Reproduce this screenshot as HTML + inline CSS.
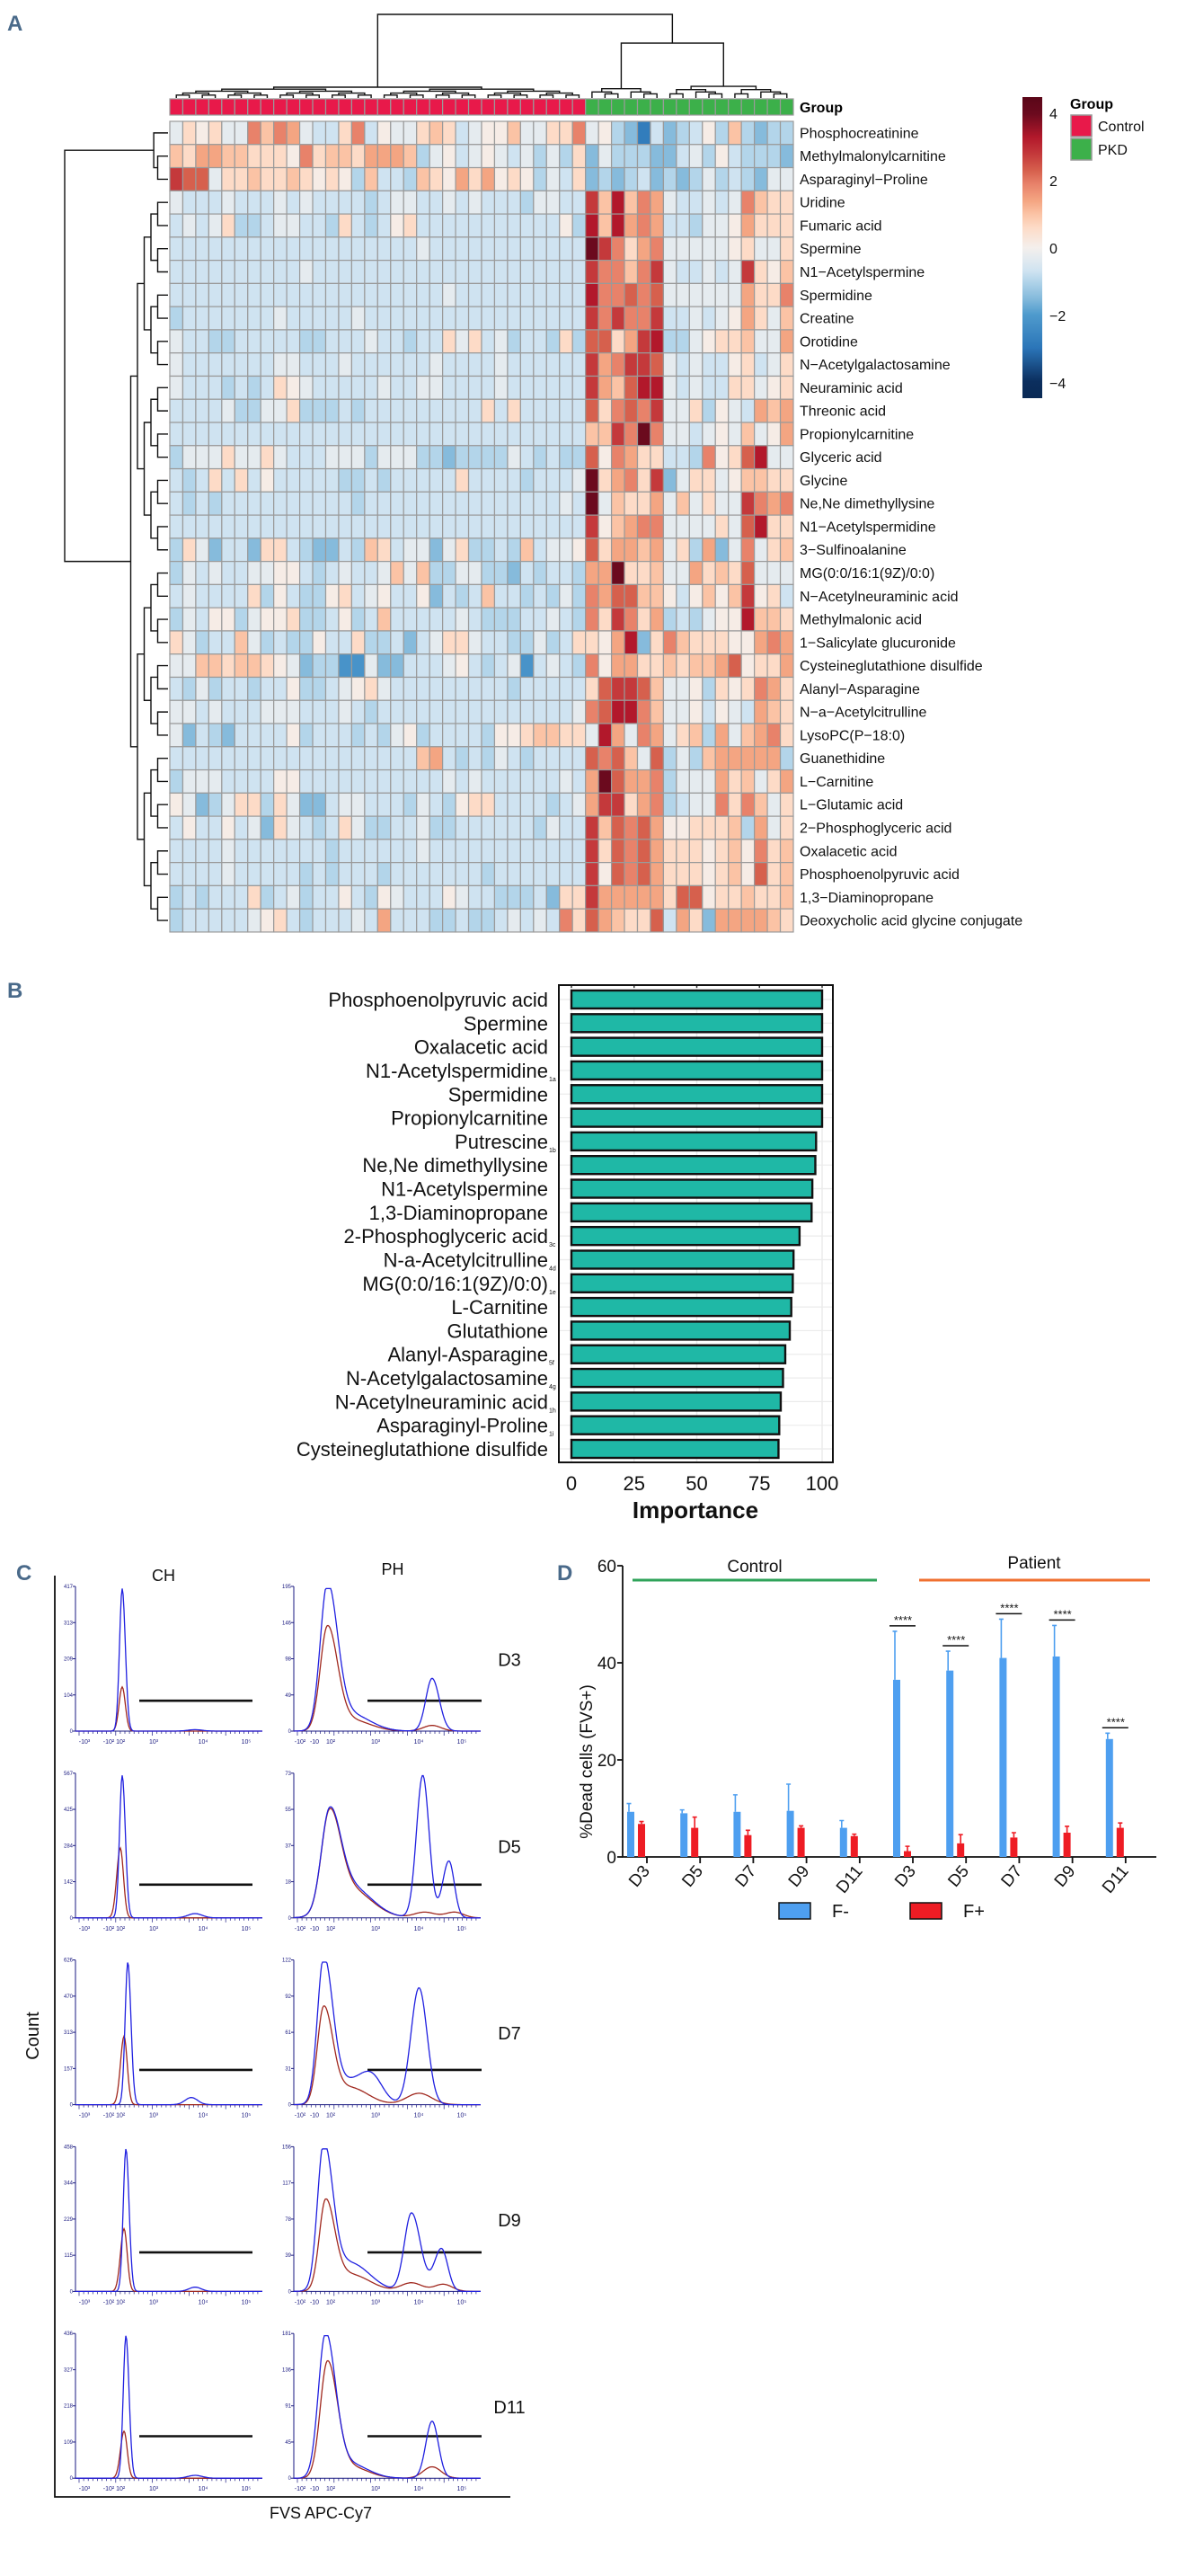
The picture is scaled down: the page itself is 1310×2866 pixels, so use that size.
<!DOCTYPE html>
<html><head><meta charset="utf-8"><title>Metabolomics figure</title>
<style>
html,body{margin:0;padding:0;background:#fff;}
svg{display:block;font-family:"Liberation Sans",Arial,sans-serif;}
.pl{font-family:"Liberation Sans",sans-serif;font-weight:bold;fill:#4a6a8a;font-size:24px;}
</style></head>
<body>
<svg id="fig" width="1310" height="2866" viewBox="0 0 1310 2866" xmlns="http://www.w3.org/2000/svg">
<defs>
<linearGradient id="cbar" x1="0" y1="0" x2="0" y2="1"></linearGradient>
</defs>
<text class="pl" x="8" y="34">A</text>
<text class="pl" x="8" y="1110">B</text>
<text class="pl" x="18" y="1758">C</text>
<text class="pl" x="620" y="1758">D</text>
<g id="gA"></g>
<g id="gB"></g>
<g id="gC"></g>
<g id="gD"></g>
</svg>
<script>
// ---------- Panel A data ----------
const metabolites=["Phosphocreatinine","Methylmalonylcarnitine","Asparaginyl\u2212Proline","Uridine","Fumaric acid","Spermine","N1\u2212Acetylspermine","Spermidine","Creatine","Orotidine","N\u2212Acetylgalactosamine","Neuraminic acid","Threonic acid","Propionylcarnitine","Glyceric acid","Glycine","Ne,Ne dimethyllysine","N1\u2212Acetylspermidine","3\u2212Sulfinoalanine","MG(0:0/16:1(9Z)/0:0)","N\u2212Acetylneuraminic acid","Methylmalonic acid","1\u2212Salicylate glucuronide","Cysteineglutathione disulfide","Alanyl\u2212Asparagine","N\u2212a\u2212Acetylcitrulline","LysoPC(P\u221218:0)","Guanethidine","L\u2212Carnitine","L\u2212Glutamic acid","2\u2212Phosphoglyceric acid","Oxalacetic acid","Phosphoenolpyruvic acid","1,3\u2212Diaminopropane","Deoxycholic acid glycine conjugate"];
const controlRows=["687866b9ba6558b5766898567796688b","98aa998887b8998aaa94675676564648","dcc6889889878749554987a8a7874658","65556555656555545665565655546655","56568445665548545785555555555574","55555555555555555556555555555555","55555555556555555555555555555555","55555555555555555555565555555555","45555555655555655555555555555555","65544555554455565545586856455484","65555555665556555555655556555555","65554545876555556556655556555555","55556446684445455555555585855555","55555555555555555555555555555555","46668668655566646664434444654544","54585857555554454555558555545556","54545555555555455555555555555565","55555555555555555555555555555555","48635538854335498566368445495667","46565566775456556969446644354554","56555584754478567557354595545464","46577467784457459555556544455654","86455964544755844535688655446458","66998998763442263355567545625654","54645545574456786555555555455555","66565556665556545555555555555556","63543555574555454674555547789988","55555555555555555559a54546545555","46665555775555555555565655555565","76346884863356655546547885555456","57557563865458644556445555554655","55556555555545555556555555555555","55556555554545554555555545555555","45455584564557547655576554445388","4555556785455565a5554454456565b8"];
const pkdRows=["6743153457494344","3644433564754443","3434534346454366","d9e9ba655656b988","e9eaba554667a888","fdb8ab6666678668","dbb9bd655656d879","ebbcbc666666a88b","dbdbbd556567a869","cc8ade446788966a","dabddc6565578568","da9cee6565588678","c8bcbd6684765a9a","99dbfb665676967a","c7ba88554b78ce66","f8ab8d3688679988","f6988a696866dbab","d79abb666686ce88","c8aa9a684a36b689","aaf88966a898c666","bacc99757979d785","b8db8a454677e998","87ae38b988877aba","b7aa889899ac788a","8cddc96674878ba8","bceeb96675765a98","6ea6ba6894a69ab8","cbc96c4649aaaaa4","afcaab4666a8968a","add8ab4566b8b968","d9cbca7788894a68","d8cbca8887897b89","d7cbca8887897c89","daaaaa8cc7889889","ca988c5a83aaaa98"];
const codeKeys="123456789abcdef";
const codeValues=[-2.8,-2.2,-1.5,-1.0,-0.7,-0.3,0.1,0.6,1.0,1.4,1.9,2.3,2.8,3.3,4.0];
const nControl=32, nPKD=16;
const colorStopVals=[-4.5,-4,-3,-2,-1.5,-1,-0.7,-0.3,0,0.6,1,1.4,1.9,2.3,2.8,3.3,4,4.5];
const colorStopCols=["#0a2a55","#0b2e5e","#2b75b8","#4f9bcd","#86bbdc","#b3d5ea","#cfe3f1","#e5ebef","#f4efec","#fddbc7","#fbc3a5","#f4a582","#e8826a","#d6604d","#c4393b","#b2182b","#6b0a1e","#5a0618"];
const cbTicks=[4,2,0,-2,-4];

// ---------- Panel B data ----------
const impLabels=["Phosphoenolpyruvic acid","Spermine","Oxalacetic acid","N1-Acetylspermidine","Spermidine","Propionylcarnitine","Putrescine","Ne,Ne dimethyllysine","N1-Acetylspermine","1,3-Diaminopropane","2-Phosphoglyceric acid","N-a-Acetylcitrulline","MG(0:0/16:1(9Z)/0:0)","L-Carnitine","Glutathione","Alanyl-Asparagine","N-Acetylgalactosamine","N-Acetylneuraminic acid","Asparaginyl-Proline","Cysteineglutathione disulfide"];
const impSubs=["","","","1a","","","1b","","","","3c","4d","1e","","","5f","4g","1h","1i",""];
const impValues=[100,100,100,100,100,100,97.6,97.3,96.1,95.8,91.0,88.6,88.3,87.7,87.1,85.3,84.4,83.5,82.9,82.6];
const impTicks=[0,25,50,75,100];

// ---------- Panel C data ----------
const dayLabels=["D3","D5","D7","D9","D11"];
const chMax=[417,567,626,458,436];
const phMax=[195,73,122,156,181];
// peaks: [centerFrac, heightFrac, sigmaLeftPx, sigmaRightPx]
const chBlue=[[[0.25,1,3,3.5],[0.64,0.01,8,8]],[[0.25,1,3,3.5],[0.64,0.03,8,8]],[[0.28,1,3,3.5],[0.62,0.05,7,7]],[[0.27,1,3,3.5],[0.64,0.03,7,7]],[[0.27,1,3,3.5],[0.64,0.02,8,8]]];
const chRed=[[[0.25,0.31,3.5,3.5]],[[0.24,0.49,4,3.5]],[[0.26,0.48,4,3.5]],[[0.26,0.44,4,3.5]],[[0.26,0.33,4,3.5]]];
const phBlue=[[[0.18,1,8,11],[0.3,0.12,18,22],[0.74,0.37,7,8]],[[0.19,0.66,9,12],[0.3,0.22,20,24],[0.69,1.0,7,7],[0.83,0.4,7,6]],[[0.16,1,7,10],[0.3,0.16,18,20],[0.42,0.15,12,12],[0.67,0.82,9,9]],[[0.16,1,7,10],[0.3,0.2,18,22],[0.63,0.55,8,10],[0.79,0.3,8,7]],[[0.17,1,8,11],[0.3,0.1,16,20],[0.74,0.4,7,7]]];
const phRed=[[[0.18,0.71,8,11],[0.3,0.08,18,22],[0.74,0.04,10,10]],[[0.19,0.66,9,12],[0.3,0.2,20,24],[0.7,0.04,12,12],[0.86,0.04,10,10]],[[0.16,0.66,7,10],[0.3,0.12,18,20],[0.67,0.08,14,14]],[[0.17,0.61,7,10],[0.3,0.12,18,22],[0.63,0.06,12,12],[0.8,0.05,10,10]],[[0.18,0.8,8,11],[0.3,0.08,16,20],[0.74,0.08,10,10]]];
const gateFrac=[0.21,0.23,0.24,0.27,0.29];

// ---------- Panel D data ----------
const dCats=["D3","D5","D7","D9","D11","D3","D5","D7","D9","D11"];
const fMinus=[9.3,9.0,9.3,9.5,6.0,36.5,38.4,41.0,41.3,24.3];
const fMinusErr=[1.7,0.7,3.5,5.5,1.5,10.0,4.0,8.0,6.4,1.2];
const fPlus=[6.8,6.0,4.5,6.0,4.3,1.2,2.8,4.0,5.0,6.0];
const fPlusErr=[0.5,2.2,1.0,0.4,0.4,1.0,1.8,1.0,1.3,1.0];
const dTicks=[0,20,40,60];
const sigIdx=[5,6,7,8,9];

const NS="http://www.w3.org/2000/svg";
function mk(tag,attrs,parent){const e=document.createElementNS(NS,tag);for(const k in attrs)e.setAttribute(k,attrs[k]);parent.appendChild(e);return e;}
function txt(parent,x,y,s,size,extra){const t=mk('text',Object.assign({x:x,y:y,'font-size':size},extra||{}),parent);t.textContent=s;return t;}
function hex2rgb(h){return [parseInt(h.substr(1,2),16),parseInt(h.substr(3,2),16),parseInt(h.substr(5,2),16)];}
function colorFor(v){
  if(v<=colorStopVals[0])return colorStopCols[0];
  for(let i=1;i<colorStopVals.length;i++){if(v<=colorStopVals[i]){const t=(v-colorStopVals[i-1])/(colorStopVals[i]-colorStopVals[i-1]);const a=hex2rgb(colorStopCols[i-1]),b=hex2rgb(colorStopCols[i]);return 'rgb('+a.map((c,j)=>Math.round(c+(b[j]-c)*t)).join(',')+')';}}
  return colorStopCols[colorStopCols.length-1];
}
function codeToVal(ch){const i=codeKeys.indexOf(ch);return i<0?-0.7:codeValues[i];}

// ================= Panel A =================
const gA=document.getElementById('gA');
const HX=189,HY=135,CW=694/48,RH=25.77;
const nCols=nControl+nPKD;
function cx(j){return HX+CW*(j+0.5);}
function ry(i){return HY+RH*(i+0.5);}
for(let j=0;j<nCols;j++){
  const r=mk('rect',{x:HX+CW*j,y:110,width:CW,height:18,fill:j<nControl?'#e8194a':'#3cb04a',stroke:'#9a9a9a','stroke-width':1.2},gA);
  
  
}
const gl=txt(gA,890,125,'Group',16,{'font-weight':'bold'});


for(let i=0;i<metabolites.length;i++){
  const crow=(controlRows[i]+"5".repeat(32)).substr(0,nControl);
  const prow=(pkdRows[i]+"6".repeat(16)).substr(0,nPKD);
  const codes=crow+prow;
  for(let j=0;j<nCols;j++){
    const v=codeToVal(codes[j]);
    const r=mk('rect',{x:HX+CW*j,y:HY+RH*i,width:CW,height:RH,fill:colorFor(v),stroke:'#9a9a9a','stroke-width':1.2},gA);
    
    
  }
  const t=txt(gA,890,ry(i)+5.5,metabolites[i],16,{fill:'#111'});
  
  
}
function colTree(lo,hi,yFn){
  if(lo===hi)return {x:cx(lo),y:109};
  const mid=Math.floor((lo+hi+1)/2);
  const a=colTree(lo,mid-1,yFn),b=colTree(mid,hi,yFn);
  const y=yFn(hi-lo+1);
  const p=mk('path',{d:`M${a.x},${a.y}V${y}H${b.x}V${b.y}`,fill:'none',stroke:'#111','stroke-width':1.4},gA);
  
  
  return {x:(a.x+b.x)/2,y:y};
}
const cRoot=colTree(0,31,n=>108-2.2*Math.log2(n));
const pA=colTree(32,37,n=>108-3.6*Math.log2(n));
const pB=colTree(38,47,n=>108-3.6*Math.log2(n));
const pj=mk('path',{d:`M${pA.x},${pA.y}V48H${pB.x}V${pB.y}`,fill:'none',stroke:'#111','stroke-width':1.4},gA);


const pr=mk('path',{d:`M${cRoot.x},${cRoot.y}V16H${(pA.x+pB.x)/2}V48`,fill:'none',stroke:'#111','stroke-width':1.4},gA);


function rowTree(lo,hi){
  if(lo===hi)return {x:187,y:ry(lo)};
  const mid=Math.floor((lo+hi+1)/2);
  const a=rowTree(lo,mid-1),b=rowTree(mid,hi);
  const x=187-(4+7.5*Math.log2(hi-lo+1));
  const p=mk('path',{d:`M${a.x},${a.y}H${x}V${b.y}H${b.x}`,fill:'none',stroke:'#111','stroke-width':1.4},gA);
  
  
  return {x:x,y:(a.y+b.y)/2};
}
const rA=rowTree(0,2),rB=rowTree(3,34);
const rr=mk('path',{d:`M${rA.x},${rA.y}H72V${rB.y}H${rB.x}`,fill:'none',stroke:'#111','stroke-width':1.4},gA);


// colorbar (stops in increasing offset order)
const grad=document.getElementById('cbar');
for(let k=colorStopVals.length-1;k>=0;k--){
  const v=colorStopVals[k];
  mk('stop',{offset:((4.5-v)/9).toFixed(4),'stop-color':colorStopCols[k]},grad);
}
const cb=mk('rect',{x:1138,y:108,width:22,height:335,fill:'url(#cbar)'},gA);


for(const v of cbTicks){
  const y=276-v*37.5;
  const t=txt(gA,1168,y+6,String(v).replace('-','\u2212'),16,{fill:'#111'});
  
  
}
const lgT=txt(gA,1191,121,'Group',16,{'font-weight':'bold'});


[['Control','#e8194a',128],['PKD','#3cb04a',154]].forEach(function(e){
  const b=mk('rect',{x:1192,y:e[2],width:23,height:24,fill:e[1],stroke:'#9a9a9a','stroke-width':1.5},gA);
  
  
  const t=txt(gA,1222,e[2]+18,e[0],16,{fill:'#111'});
  
  
});

// ================= Panel B =================
const gB=document.getElementById('gB');
const BX0=636,BX1=915,BT=1096,BB=1627;
function bx(v){return BX0+(BX1-BX0)*v/100;}
const bbg=mk('rect',{x:622,y:BT,width:305,height:BB-BT,fill:'#fff'},gB);


for(const t of impTicks){
  const g=mk('line',{x1:bx(t),x2:bx(t),y1:BT,y2:BB,stroke:'#ebebeb','stroke-width':1.5},gB);
  
  
  const tk=mk('line',{x1:bx(t),x2:bx(t),y1:BT,y2:BT+3,stroke:'#333','stroke-width':1.5},gB);
  
  
  const tl=txt(gB,bx(t),1658,String(t),22,{'text-anchor':'middle',fill:'#111'});
  
  
}
const step=(1612-1112)/(impLabels.length-1);
for(let i=0;i<impLabels.length;i++){
  const yc=1112+step*i;
  const hg=mk('line',{x1:622,x2:927,y1:yc,y2:yc,stroke:'#ebebeb','stroke-width':1.2},gB);
  
  
  const r=mk('rect',{x:bx(0),y:yc-10,width:bx(impValues[i])-bx(0),height:20,fill:'#1fb8a6',stroke:'#111','stroke-width':2.4},gB);
  
  
  const t=txt(gB,610,yc+8,impLabels[i],22,{'text-anchor':'end',fill:'#111'});
  
  
  if(impSubs[i]){
    const s=txt(gB,611,yc+12,impSubs[i],7,{fill:'#111'});
    
    
  }
}
const bfr=mk('rect',{x:622,y:BT,width:305,height:BB-BT,fill:'none',stroke:'#111','stroke-width':2},gB);


const bxt=txt(gB,774,1689,'Importance',26,{'text-anchor':'middle','font-weight':'bold',fill:'#111'});



// ================= Panel C =================
const gC=document.getElementById('gC');
const PW=208,PH=161,NAVY='#1a1a80';
const t1=txt(gC,182,1759,'CH',18,{'text-anchor':'middle',fill:'#111'});


const t2=txt(gC,437,1752,'PH',18,{'text-anchor':'middle',fill:'#111'});


const bigAx=mk('path',{d:'M61,1753V2778H568',fill:'none',stroke:'#111','stroke-width':1.8},gC);


const cnt=txt(gC,0,0,'Count',20,{'text-anchor':'middle',fill:'#111',transform:'translate(43,2265) rotate(-90)'});


const fvs=txt(gC,357,2802,'FVS APC-Cy7',18,{'text-anchor':'middle',fill:'#111'});


function curvePath(x0,base,peaks){
  let d='';
  for(let x=0;x<=PW;x+=1){
    let v=0;
    for(const p of peaks){const c=p[0]*PW;const s=x<c?p[2]:p[3];v+=p[1]*Math.exp(-0.5*((x-c)/s)**2);}
    v=Math.min(v,1);
    d+=(x===0?'M':'L')+(x0+x).toFixed(1)+','+(base-v*PH*0.985).toFixed(1);
  }
  return d;
}
function histo(x0,top,maxv,blue,red,gate,gx1,gx2,kind,xl){
  const base=top+PH;
  const ax=mk('path',{d:`M${x0},${top}V${base}H${x0+PW}`,fill:'none',stroke:NAVY,'stroke-width':1},gC);
  
  
  for(let k=0;k<=4;k++){
    const y=base-PH*k/4;
    const tk=mk('line',{x1:x0-3,x2:x0,y1:y,y2:y,stroke:NAVY,'stroke-width':1},gC);
    
    
    const tl=txt(gC,x0-3,y+2,String(Math.round(maxv*k/4)),6,{'text-anchor':'end',fill:NAVY});
    
    
  }
  for(let k=0;k<40;k++){
    const x=x0+4+k*5.1;
    const mt=mk('line',{x1:x,x2:x,y1:base,y2:base+(k%8===0?5:3),stroke:NAVY,'stroke-width':0.7},gC);
    
    
  }
  xl.forEach(function(e){
    const t=txt(gC,e[0],base+14,e[1],7,{'text-anchor':'middle',fill:NAVY});
    
    
  });
  const gy=base-gate*PH;
  const gl=mk('line',{x1:gx1,x2:gx2,y1:gy,y2:gy,stroke:'#111','stroke-width':2.6},gC);
  
  
  const rb=mk('path',{d:curvePath(x0,base,red),fill:'none',stroke:'#a0281e','stroke-width':1.3},gC);
  
  
  const bl=mk('path',{d:curvePath(x0,base,blue),fill:'none',stroke:'#2020e0','stroke-width':1.3},gC);
  
  
}
const chXL=[[94,'-10\u00b3'],[127,'-10\u00b2 10\u00b2'],[171,'10\u00b3'],[226,'10\u2074'],[274,'10\u2075']];
const phXL=[[334,'-10\u00b2'],[350,'-10'],[368,'10\u00b2'],[418,'10\u00b3'],[466,'10\u2074'],[514,'10\u2075']];
for(let i=0;i<dayLabels.length;i++){
  const top=1765+i*207.8;
  histo(84,top,chMax[i],chBlue[i],chRed[i],gateFrac[i],155,281,'ch',chXL);
  histo(327,top,phMax[i],phBlue[i],phRed[i],gateFrac[i],409,536,'ph',phXL);
  const dl=txt(gC,567,top+PH*0.55,dayLabels[i],20,{'text-anchor':'middle',fill:'#111'});
  
  
}

// ================= Panel D =================
const gD=document.getElementById('gD');
const DY0=2066,DS=5.4,AX=693;
function dy(v){return DY0-v*DS;}
function dxTick(i){return 720+i*59.2;}
const dax=mk('path',{d:`M${AX},${dy(60)}V${DY0}H1287`,fill:'none',stroke:'#111','stroke-width':1.8},gD);


for(const t of dTicks){
  const l=mk('line',{x1:AX-6,x2:AX,y1:dy(t),y2:dy(t),stroke:'#111','stroke-width':1.8},gD);
  
  
  const tl=txt(gD,AX-7,dy(t)+7,String(t),19,{'text-anchor':'end',fill:'#111'});
  
  
}
const yt=txt(gD,0,0,'%Dead cells (FVS+)',19,{'text-anchor':'middle',fill:'#111',transform:'translate(659,1960) rotate(-90)'});


const cl=mk('line',{x1:704,x2:976,y1:1758,y2:1758,stroke:'#2fa35a','stroke-width':3},gD);


const clt=txt(gD,840,1749,'Control',19,{'text-anchor':'middle',fill:'#111'});


const pl=mk('line',{x1:1023,x2:1280,y1:1758,y2:1758,stroke:'#f07030','stroke-width':3},gD);


const plt=txt(gD,1151,1745,'Patient',19,{'text-anchor':'middle',fill:'#111'});


function errBar(x,v,e,col){
  const p=mk('path',{d:`M${x},${dy(v)}V${dy(v+e)}M${x-2.5},${dy(v+e)}H${x+2.5}`,fill:'none',stroke:col,'stroke-width':1.6},gD);
  
  
}
for(let i=0;i<dCats.length;i++){
  const t=dxTick(i);
  const bxm=t-22, bxp=t-10;
  const b1=mk('rect',{x:bxm,y:dy(fMinus[i]),width:8,height:fMinus[i]*DS,fill:'#4e9ff0'},gD);
  
  
  errBar(bxm+2,fMinus[i],fMinusErr[i],'#4e9ff0');
  const b2=mk('rect',{x:bxp,y:dy(fPlus[i]),width:8,height:fPlus[i]*DS,fill:'#ee1c24'},gD);
  
  
  errBar(bxp+4,fPlus[i],fPlusErr[i],'#ee1c24');
  const tk=mk('line',{x1:t,x2:t,y1:DY0,y2:DY0+7,stroke:'#111','stroke-width':1.8},gD);
  
  
  const tl=txt(gD,0,0,dCats[i],19,{'text-anchor':'end',fill:'#111',transform:`translate(${t+4},${DY0+16}) rotate(-50)`});
  
  
}
for(const i of sigIdx){
  const t=dxTick(i);
  const top=Math.max(fMinus[i]+fMinusErr[i],fPlus[i]+fPlusErr[i]);
  const y=dy(top)-6;
  const l=mk('line',{x1:t-26,x2:t+3,y1:y,y2:y,stroke:'#111','stroke-width':1.5},gD);
  
  
  const s=txt(gD,t-11,y-2,'****',13,{'text-anchor':'middle',fill:'#111'});
  
  
}
[['F-','#4e9ff0',867,926],['F+','#ee1c24',1013,1072]].forEach(function(e){
  const r=mk('rect',{x:e[2],y:2117,width:35,height:18,fill:e[1],stroke:'#111','stroke-width':1.5},gD);
  
  
  const t=txt(gD,e[3],2133,e[0],20,{fill:'#111'});
  
  
});
</script>
</body></html>
